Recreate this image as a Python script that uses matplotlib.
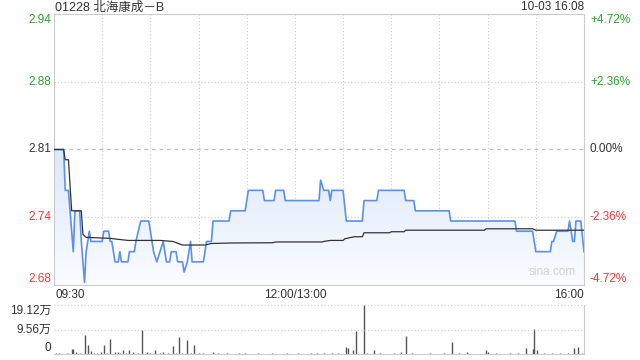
import numpy as np
import matplotlib.pyplot as plt
from matplotlib.patches import Polygon
from matplotlib.colors import LinearSegmentedColormap

plt.rcParams['font.family'] = ['Liberation Sans', 'Noto Sans CJK SC', 'DejaVu Sans']

# ---- dane ----
title = "01228 北海康成－B"
stamp = "10-03 16:08"
prev_close = 2.81
pct_ticks = [4.72, 2.36, 0.0, -2.36, -4.72]

price_times = ["09:30", "09:36", "09:37", "09:39", "09:42", "09:43", "09:46", "09:47", "09:49", "09:50",
               "09:52", "09:53", "10:00", "10:01", "10:04", "10:05", "10:06", "10:08", "10:10", "10:11",
               "10:12", "10:16", "10:17", "10:20", "10:21", "10:24", "10:29", "10:31", "10:32", "10:34",
               "10:38", "10:40", "10:42", "10:43", "10:46", "10:47", "10:50", "10:51", "10:53", "10:55",
               "10:56", "11:03", "11:05", "11:08", "11:09", "11:19", "11:20", "11:29", "11:31", "11:40",
               "11:41", "11:47", "11:48", "11:53", "11:54", "13:15", "13:16", "13:18", "13:21", "13:22",
               "13:23", "13:30", "13:32", "13:42", "13:43", "13:51", "13:52", "14:08", "14:09", "14:14",
               "14:15", "14:36", "14:37", "15:17", "15:18", "15:28", "15:30", "15:39", "15:40", "15:41",
               "15:43", "15:50", "15:51", "15:52", "15:53", "15:54", "15:55", "15:58", "16:00"]
price_vals = [2.81, 2.81, 2.77, 2.77, 2.71, 2.75, 2.75, 2.72, 2.68, 2.71,
              2.73, 2.72, 2.72, 2.73, 2.73, 2.72, 2.72, 2.70, 2.70, 2.71,
              2.70, 2.70, 2.71, 2.71, 2.72, 2.74, 2.74, 2.72, 2.71, 2.70,
              2.72, 2.70, 2.70, 2.71, 2.71, 2.70, 2.70, 2.69, 2.70, 2.72,
              2.70, 2.70, 2.72, 2.72, 2.74, 2.74, 2.75, 2.75, 2.77, 2.77,
              2.76, 2.76, 2.77, 2.77, 2.76, 2.76, 2.78, 2.77, 2.77, 2.76,
              2.77, 2.77, 2.74, 2.74, 2.76, 2.76, 2.77, 2.77, 2.76, 2.76,
              2.75, 2.75, 2.74, 2.74, 2.73, 2.73, 2.71, 2.71, 2.72, 2.72,
              2.73, 2.73, 2.74, 2.73, 2.72, 2.72, 2.74, 2.74, 2.71]

avg_times = ["09:30", "09:36", "09:37", "09:39", "09:41", "09:47", "09:48", "09:50", "10:05", "10:16",
             "10:36", "10:44", "10:50", "11:04", "11:08", "11:21", "11:46", "11:48", "13:17", "13:18",
             "13:22", "13:30", "13:31", "13:37", "13:42", "13:43", "13:59", "14:00", "14:08", "14:09",
             "14:58", "14:59", "15:28", "15:30", "16:00"]
avg_vals = [2.810, 2.810, 2.800, 2.800, 2.750, 2.750, 2.727, 2.724, 2.723, 2.721,
            2.721, 2.720, 2.7165, 2.7165, 2.718, 2.7185, 2.7187, 2.7195, 2.7195, 2.720,
            2.721, 2.721, 2.7226, 2.7246, 2.7246, 2.7285, 2.7285, 2.7295, 2.7295, 2.731,
            2.731, 2.7324, 2.7324, 2.731, 2.731]

# wolumen w 万
vol_times = ["09:31", "09:33", "09:35", "09:38", "09:41", "09:42", "09:44", "09:46", "09:49", "09:51",
             "09:53", "09:55", "09:57", "09:59", "10:01", "10:03", "10:05", "10:08", "10:10", "10:11",
             "10:13", "10:15", "10:17", "10:19", "10:22", "10:25", "10:28", "10:30", "10:33", "10:36",
             "10:38", "10:41", "10:44", "10:46", "10:48", "10:50", "10:53", "10:55", "10:57", "11:00",
             "11:03", "11:06", "11:09", "11:12", "11:15", "11:18", "11:22", "11:25", "11:29", "11:33",
             "11:37", "11:42", "11:46", "11:50", "11:55", "11:58", "13:02", "13:05", "13:10", "13:14",
             "13:18", "13:23", "13:27", "13:32", "13:33", "13:36", "13:38", "13:43", "13:45", "13:49",
             "13:53", "13:58", "14:02", "14:06", "14:09", "14:13", "14:18", "14:24", "14:29", "14:33",
             "14:38", "14:42", "14:47", "14:52", "14:59", "15:00", "15:05", "15:10", "15:14", "15:19",
             "15:24", "15:28", "15:29", "15:31", "15:35", "15:40", "15:45", "15:50", "15:54", "15:56",
             "15:59"]
vol_vals = [0.5, 0.4, 0.3, 0.6, 2.0, 2.0, 1.0, 0.5, 7.5, 3.6,
            1.2, 0.4, 0.6, 0.8, 3.6, 0.5, 5.9, 1.0, 0.8, 0.4,
            1.7, 0.5, 1.7, 0.9, 0.6, 9.5, 0.7, 0.5, 1.7, 0.6,
            0.8, 0.5, 3.2, 0.4, 6.6, 0.6, 5.4, 0.5, 3.6, 0.4,
            0.5, 0.3, 1.0, 0.4, 0.3, 0.4, 0.3, 0.4, 0.5, 0.3,
            0.4, 0.3, 0.4, 0.3, 0.5, 0.3, 0.4, 0.3, 0.5, 0.4,
            0.6, 0.6, 0.5, 2.7, 2.3, 1.7, 9.0, 19.12, 0.5, 1.7,
            0.4, 0.3, 0.4, 1.0, 7.0, 0.5, 0.3, 0.4, 0.3, 0.5,
            4.6, 0.4, 1.0, 0.3, 1.7, 0.8, 0.4, 0.3, 0.5, 0.4,
            2.3, 2.0, 9.8, 1.7, 0.5, 0.6, 0.4, 0.5, 2.3, 2.7,
            0.6]
vol_ticks = [0, 9.56, 19.12]

GREEN = '#2ca52c'
RED = '#f03a3a'
GRID = '#cccccc'
TXT = '#333333'


def pos(t):
    h, m = map(int, t.split(':'))
    mins = h * 60 + m
    if mins <= 720:
        return mins - 570
    return mins - 780 + 150


px = np.array([pos(t) for t in price_times], dtype=float)
py = np.array(price_vals)
ax_ = np.array([pos(t) for t in avg_times], dtype=float)
vx = np.array([pos(t) for t in vol_times], dtype=float)

lo = prev_close * (1 - pct_ticks[0] / 100)
hi = prev_close * (1 + pct_ticks[0] / 100)
levels = [prev_close * (1 + p / 100) for p in pct_ticks]

fig = plt.figure(figsize=(6.4, 3.6), dpi=100)
ax = fig.add_axes([54 / 640, 75 / 360, 530 / 640, 271 / 360])
axv = fig.add_axes([54 / 640, 5.7 / 360, 530 / 640, 49.3 / 360])

# ---- wykres ceny ----
ax.set_xlim(0, 330)
for x in range(30, 330, 30):
    ax.axvline(x, color=GRID, lw=0.8, ls=(0, (1, 2)), zorder=1)
for lv in levels:
    if abs(lv - prev_close) < 1e-9:
        ax.axhline(lv, color='#bbbbbb', lw=0.9, ls=(0, (3, 3)), zorder=1)
    else:
        ax.axhline(lv, color=GRID, lw=0.8, ls=(0, (1, 2)), zorder=1)

# gradient pod linia
grad = np.linspace(0, 1, 256).reshape(-1, 1)
cmap = LinearSegmentedColormap.from_list('g', ['#fafcff', '#dce8fb'])
im = ax.imshow(grad, cmap=cmap, aspect='auto', origin='lower',
               extent=[0, 330, lo, py.max()], zorder=2)
poly = Polygon(np.column_stack([np.r_[px[0], px, px[-1]], np.r_[lo, py, lo]]),
               closed=True, facecolor='none', edgecolor='none')
ax.add_patch(poly)
im.set_clip_path(poly)
ax.set_xlim(0, 330)
ax.set_ylim(lo, hi)

ax.plot(px, py, color='#5b8ff0', lw=1.2, zorder=4)
ax.plot(ax_, avg_vals, color=TXT, lw=0.9, zorder=5)

for s in ax.spines.values():
    s.set_color(GRID)
ax.set_xticks([])
ax.set_yticks([])

# etykiety osi
cols = [GREEN, GREEN, TXT, RED, RED]
for i, (lv, pc) in enumerate(zip(levels, pct_ticks)):
    va = 'top' if i == 0 else ('bottom' if i == len(levels) - 1 else 'center')
    ax.text(-3 / 530 * 330, lv, f"{lv:.2f}", color=cols[i], fontsize=8.5,
            ha='right', va=va)
    lab = "0.00%" if pc == 0 else f"{pc:+.2f}%"
    ax.text(330 + 6 / 530 * 330, lv, lab, color=cols[i], fontsize=8.5,
            ha='left', va=va)

ax.text(0.002, -0.015, "09:30", transform=ax.transAxes, fontsize=8.5, color=TXT, ha='left', va='top')
ax.text(150 / 330, -0.015, "12:00/13:00", transform=ax.transAxes, fontsize=8.5, color=TXT,
        ha='center', va='top')
ax.text(1.0, -0.015, "16:00", transform=ax.transAxes, fontsize=8.5, color=TXT, ha='right', va='top')
fig.text(55 / 640, 1 - 7.5 / 360, title, fontsize=9, color=TXT, ha='left', va='center')
fig.text(584 / 640, 1 - 7.5 / 360, stamp, fontsize=8.5, color=TXT, ha='right', va='center')
ax.text(0.985, 0.025, "sina.com", transform=ax.transAxes, fontsize=8.5, color='#d0d0d0',
        ha='right', va='bottom', zorder=3)

# ---- wolumen ----
axv.set_xlim(0, 330)
axv.set_ylim(0, vol_ticks[-1])
axv.vlines(vx, 0, vol_vals, color='#555555', lw=1.0)
for v in vol_ticks[1:]:
    axv.axhline(v, color=GRID, lw=0.8, ls=(0, (1, 2)))
for v in vol_ticks:
    lab = "0" if v == 0 else f"{v:.2f}万"
    va = 'bottom' if v == 0 else ('top' if v == vol_ticks[-1] else 'center')
    axv.text(-3 / 530 * 330, v, lab, fontsize=8.5, color=TXT, ha='right', va=va)
for k in ['top', 'left']:
    axv.spines[k].set_visible(False)
axv.spines['right'].set_color(GRID)
axv.spines['bottom'].set_color(GRID)
axv.set_xticks([])
axv.set_yticks([])

fig.savefig('out.png', dpi=100)
